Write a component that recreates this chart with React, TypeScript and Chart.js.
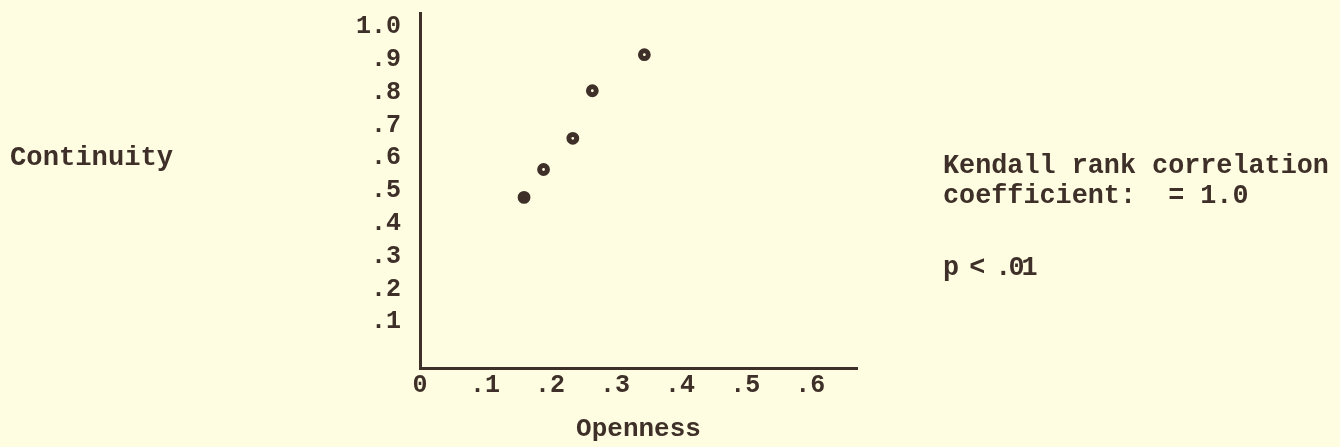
import React, { useEffect, useRef } from "react";
import { Chart, registerables } from "chart.js";

Chart.register(...registerables);

// ---- data ----
const openness = [0.16, 0.19, 0.235, 0.265, 0.345];
const continuity = [0.48, 0.565, 0.66, 0.805, 0.915];

const xTickValues = [0, 0.1, 0.2, 0.3, 0.4, 0.5, 0.6];
const xTickLabels = ["0", ".1", ".2", ".3", ".4", ".5", ".6"];
const yTickValues = [0.1, 0.2, 0.3, 0.4, 0.5, 0.6, 0.7, 0.8, 0.9, 1.0];
const yTickLabels = [".1", ".2", ".3", ".4", ".5", ".6", ".7", ".8", ".9", "1.0"];

const xAxisTitle = "Openness";
const yAxisTitle = "Continuity";
const noteLines = ["Kendall rank correlation", "coefficient:  = 1.0"];
const pNote = "p < .01";

// ---- style ----
const BG = "#fefde2";
const INK = "#3e3028";
const FONT = "'Liberation Mono', 'DejaVu Sans Mono', monospace";

const textPlugin = {
  id: "sideText",
  afterDraw(chart: any) {
    const ctx = chart.ctx as CanvasRenderingContext2D;
    ctx.save();
    ctx.fillStyle = INK;
    ctx.textAlign = "left";
    ctx.textBaseline = "alphabetic";
    ctx.font = `bold 27.2px ${FONT}`;
    ctx.fillText(yAxisTitle, 10, 165);
    ctx.font = `bold 26.8px ${FONT}`;
    ctx.fillText(noteLines[0], 943, 173);
    ctx.fillText(noteLines[1], 943, 203);
    try {
      (ctx as any).letterSpacing = "-3px";
    } catch (e) {}
    ctx.fillText(pNote, 943, 275);
    ctx.restore();
  },
};

const bgPlugin = {
  id: "bg",
  beforeDraw(chart: any) {
    const ctx = chart.ctx as CanvasRenderingContext2D;
    ctx.save();
    ctx.fillStyle = BG;
    ctx.fillRect(0, 0, chart.width, chart.height);
    ctx.restore();
  },
};

export default function App() {
  const ref = useRef<HTMLCanvasElement | null>(null);

  useEffect(() => {
    if (!ref.current) return;
    const chart = new Chart(ref.current, {
      type: "scatter",
      data: {
        datasets: [
          {
            data: openness.map((x, i) => ({ x, y: continuity[i] })),
            pointRadius: 3.9,
            pointBorderWidth: 5,
            pointBorderColor: INK,
            pointBackgroundColor: openness.map((_, i) => (i === 0 ? INK : BG)),
            showLine: false,
          },
        ],
      },
      options: {
        animation: false,
        responsive: false,
        events: [],
        layout: { padding: { top: 13, right: 483, left: 0, bottom: 0 } },
        plugins: { legend: { display: false }, tooltip: { enabled: false } },
        scales: {
          x: {
            type: "linear",
            min: 0,
            max: 0.672,
            afterBuildTicks: (s: any) => {
              s.ticks = xTickValues.map((v) => ({ value: v }));
            },
            afterFit: (s: any) => {
              s.height = 79;
              s.paddingLeft = 0;
              s.paddingRight = 0;
            },
            ticks: {
              autoSkip: false,
              maxRotation: 0,
              padding: 3,
              color: INK,
              font: { family: FONT, size: 25, weight: "bold" },
              callback: (_v: any, i: number) => xTickLabels[i],
            },
            grid: { display: false, drawTicks: false },
            border: { display: true, color: INK, width: 3 },
            title: {
              display: true,
              text: xAxisTitle,
              color: INK,
              font: { family: FONT, size: 26, weight: "bold" },
              padding: { top: 0, bottom: 2 },
            },
          },
          y: {
            type: "linear",
            min: -0.04,
            max: 1.042,
            afterBuildTicks: (s: any) => {
              s.ticks = yTickValues.map((v) => ({ value: v }));
            },
            afterFit: (s: any) => {
              s.width = 420;
              s.paddingTop = 0;
              s.paddingBottom = 0;
            },
            ticks: {
              autoSkip: false,
              padding: 19,
              color: INK,
              font: { family: FONT, size: 25, weight: "bold" },
              callback: (_v: any, i: number) => yTickLabels[i],
            },
            grid: { display: false, drawTicks: false },
            border: { display: true, color: INK, width: 3 },
          },
        },
      } as any,
      plugins: [bgPlugin, textPlugin],
    });
    return () => chart.destroy();
  }, []);

  return (
    <div style={{ position: "fixed", left: 0, top: 0, width: 1340, height: 447, background: BG }}>
      <canvas ref={ref} width={1340} height={447} style={{ display: "block" }} />
    </div>
  );
}
